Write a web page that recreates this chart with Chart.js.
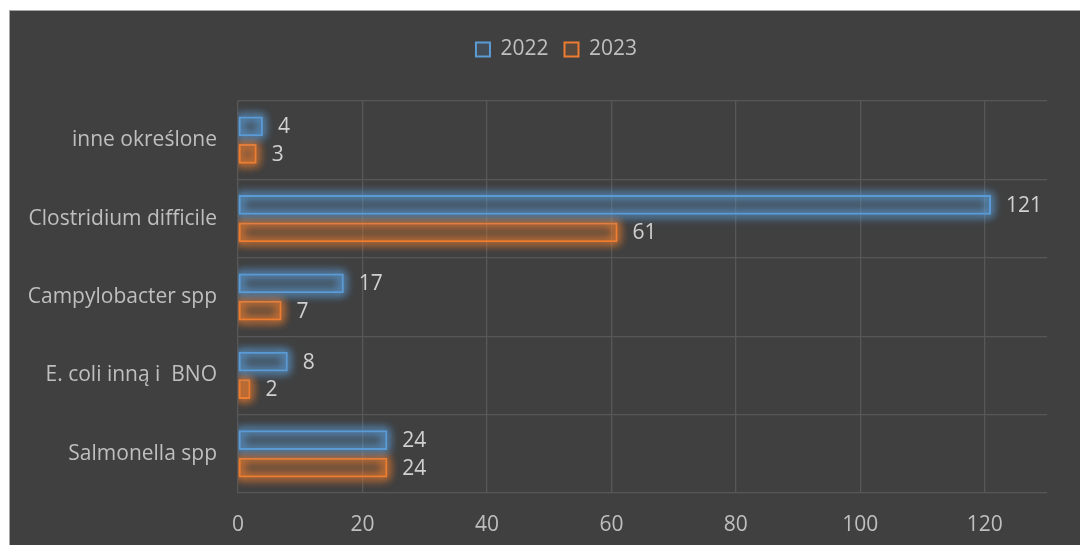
<!DOCTYPE html>
<html>
<head>
<meta charset="utf-8">
<script src="https://cdn.jsdelivr.net/npm/chart.js@4"></script>
<style>
  html, body { margin: 0; padding: 0; background: #ffffff; }
  #frame {
    position: absolute; left: 9px; top: 10px;
    width: 1071px; height: 535px;
    border-left: 1px solid #a6a6a6; border-top: 1px solid #a6a6a6;
    background: #404040;
  }
  #wrap { position: absolute; left: 0; top: 0; width: 1070px; height: 534px; }
</style>
</head>
<body>
<div id="frame"><div id="wrap"><canvas id="chart"></canvas></div></div>
<script>
var categories = ["inne określone", "Clostridium difficile", "Campylobacter spp", "E. coli inną i  BNO", "Salmonella spp"];
var values2022 = [4, 121, 17, 8, 24];
var values2023 = [3, 61, 7, 2, 24];
var seriesNames = ["2022", "2023"];
var xTicks = [0, 20, 40, 60, 80, 100, 120];

Chart.defaults.font.family = "Open Sans";
Chart.defaults.font.size = 21;
Chart.defaults.color = "#bfbfbf";

var blue = "#5b9bd5";
var orange = "#ed7d31";
var glowColors = ["rgba(91,155,213,0.9)", "rgba(237,125,49,0.9)"];

// soft glow round the bars: only the shadow lands on the canvas,
// the crisp border is drawn by Chart.js on top of it
var glowPlugin = {
  id: "glow",
  beforeDatasetDraw: function (chart, args) {
    var ctx = chart.ctx;
    var area = chart.chartArea;
    var shift = 5000;
    ctx.save();
    ctx.beginPath();
    ctx.rect(area.left, 0, chart.width - area.left, chart.height);
    ctx.clip();
    ctx.shadowColor = glowColors[args.index];
    ctx.shadowBlur = 10;
    ctx.shadowOffsetX = shift;
    ctx.strokeStyle = "#000";
    ctx.lineWidth = 4;
    args.meta.data.forEach(function (bar) {
      var p = bar.getProps(["x", "y", "base", "height"], true);
      var left = Math.min(p.x, p.base);
      var w = Math.abs(p.x - p.base);
      for (var k = 0; k < 2; k++) {
        ctx.strokeRect(left + 1 - shift, p.y - p.height / 2 + 1, w - 2, p.height - 2);
      }
    });
    ctx.restore();
  }
};

// numbers at the end of each bar
var valueLabels = {
  id: "valueLabels",
  afterDatasetsDraw: function (chart) {
    var ctx = chart.ctx;
    ctx.save();
    ctx.font = "21px 'Open Sans'";
    ctx.fillStyle = "#d0d0d0";
    ctx.textAlign = "left";
    ctx.textBaseline = "middle";
    chart.data.datasets.forEach(function (ds, i) {
      chart.getDatasetMeta(i).data.forEach(function (bar, j) {
        ctx.fillText(ds.data[j], bar.x + 15, bar.y + 1);
      });
    });
    ctx.restore();
  }
};

// extra room under the legend, and nudge it right like the original
var legendSpace = {
  id: "legendSpace",
  beforeInit: function (chart) {
    var fit = chart.legend.fit;
    chart.legend.fit = function () {
      fit.bind(chart.legend)();
      this.height += 31;
    };
  },
  afterLayout: function (chart) {
    chart.legend.left += 56;
  }
};

var chart = new Chart(document.getElementById("chart"), {
  type: "bar",
  data: {
    labels: categories,
    datasets: [
      {
        label: seriesNames[0],
        data: values2022,
        backgroundColor: "rgba(91,155,213,0.14)",
        borderColor: blue,
        borderWidth: 2,
        borderSkipped: false
      },
      {
        label: seriesNames[1],
        data: values2023,
        backgroundColor: "rgba(237,125,49,0.14)",
        borderColor: orange,
        borderWidth: 2,
        borderSkipped: false
      }
    ]
  },
  options: {
    indexAxis: "y",
    responsive: true,
    maintainAspectRatio: false,
    animation: false,
    categoryPercentage: 0.7,
    barPercentage: 0.72,
    layout: { padding: { top: 12, right: 33, left: 0, bottom: 0 } },
    plugins: {
      legend: {
        position: "top",
        labels: {
          boxWidth: 14,
          boxHeight: 14,
          padding: 16,
          color: "#bfbfbf",
          font: { size: 21 }
        }
      },
      tooltip: { enabled: false }
    },
    scales: {
      x: {
        min: 0,
        max: 130,
        afterBuildTicks: function (scale) {
          scale.ticks = xTicks.map(function (v) { return { value: v }; });
        },
        afterFit: function (scale) { scale.height = 52; },
        grid: { color: "#575757", lineWidth: 1.3, drawTicks: false },
        border: { display: false },
        ticks: { padding: 19, color: "#bfbfbf" }
      },
      y: {
        afterFit: function (scale) { scale.width = 228; },
        grid: { color: "#575757", lineWidth: 1.3, drawTicks: false, offset: true },
        border: { display: false },
        ticks: { padding: 21, color: "#bfbfbf" }
      }
    }
  },
  plugins: [legendSpace, glowPlugin, valueLabels]
});
</script>
</body>
</html>
